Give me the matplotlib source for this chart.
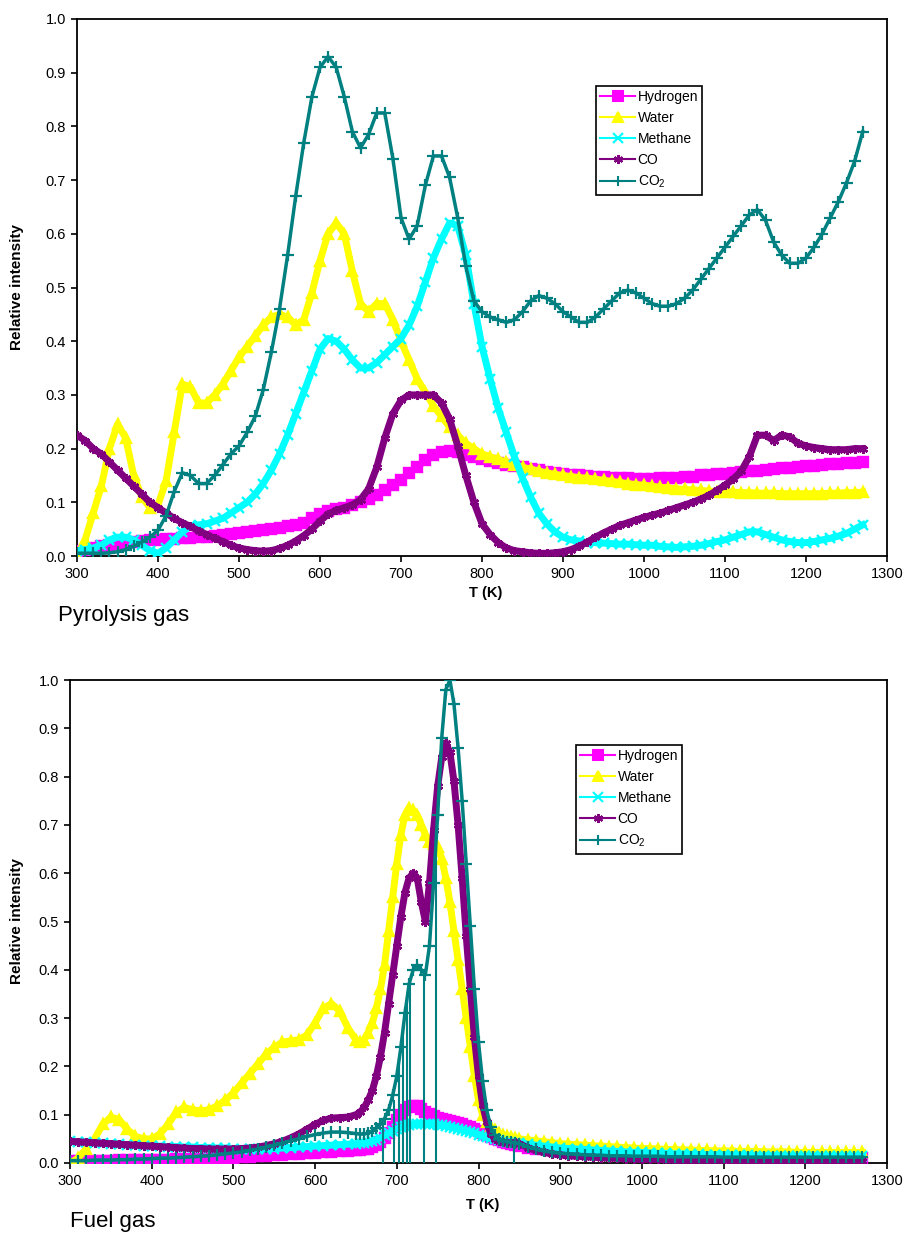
import numpy as np
import matplotlib
matplotlib.use("Agg")
import matplotlib.pyplot as plt
from matplotlib.lines import Line2D

plt.rcParams['font.family'] = ['Liberation Sans', 'DejaVu Sans']
plt.rcParams['mathtext.fontset'] = 'custom'
plt.rcParams['mathtext.rm'] = 'Liberation Sans'

# ---------------- data: Pyrolysis gas (top) ----------------
top_T = list(range(300, 1271, 10))

top_hydrogen = [
    .010, .012, .015, .018, .020, .022, .024, .026, .028, .029,
    .030, .031, .032, .033, .034, .035, .036, .038, .040, .041,
    .042, .044, .046, .048, .050, .052, .055, .058, .062, .070,
    .078, .084, .088, .090, .095, .100, .106, .114, .122, .132,
    .142, .154, .166, .178, .188, .194, .196, .193, .189, .184,
    .180, .176, .173, .170, .167, .165, .162, .160, .157, .155,
    .153, .151, .150, .149, .148, .147, .146, .145, .145, .144,
    .144, .144, .145, .145, .146, .147, .148, .150, .151, .152,
    .153, .155, .156, .158, .159, .160, .162, .163, .164, .166,
    .167, .168, .170, .171, .172, .173, .174, .175]

top_water = [
    .00, .03, .08, .13, .20, .245, .22, .15, .11, .09,
    .095, .14, .23, .32, .315, .285, .285, .30, .32, .345,
    .37, .39, .41, .43, .445, .45, .445, .43, .44, .49,
    .55, .60, .62, .60, .53, .47, .455, .47, .47, .44,
    .40, .365, .33, .305, .28, .26, .24, .225, .21, .20,
    .19, .185, .18, .175, .17, .165, .162, .158, .155, .152,
    .15, .148, .146, .145, .143, .141, .139, .137, .135, .133,
    .132, .130, .128, .127, .125, .124, .123, .122, .121, .120,
    .120, .119, .118, .118, .117, .117, .117, .116, .116, .116,
    .116, .116, .116, .117, .117, .118, .118, .119]

top_methane = [
    .01, .012, .015, .02, .03, .035, .035, .03, .02, .01,
    .005, .015, .03, .045, .055, .058, .06, .065, .07, .08,
    .09, .10, .115, .135, .16, .19, .225, .265, .305, .345,
    .385, .405, .40, .385, .365, .35, .35, .36, .375, .39,
    .405, .43, .465, .51, .555, .59, .62, .615, .56, .47,
    .39, .33, .275, .23, .185, .145, .11, .08, .06, .045,
    .035, .03, .028, .025, .025, .024, .023, .022, .022, .021,
    .02, .02, .018, .017, .016, .017, .018, .02, .023, .027,
    .03, .035, .04, .045, .045, .04, .035, .03, .027, .025,
    .025, .027, .03, .033, .037, .042, .05, .058]

top_co = [
    .225, .215, .20, .19, .175, .16, .145, .13, .115, .10,
    .09, .08, .07, .062, .055, .047, .04, .033, .027, .02,
    .015, .012, .01, .009, .01, .014, .02, .028, .038, .05,
    .065, .078, .085, .09, .095, .105, .125, .165, .22, .265,
    .29, .30, .30, .30, .30, .285, .255, .205, .15, .10,
    .06, .04, .025, .015, .01, .008, .006, .005, .005, .006,
    .008, .012, .018, .026, .035, .043, .05, .057, .062, .067,
    .072, .076, .08, .085, .09, .095, .10, .106, .113, .122,
    .132, .143, .158, .185, .225, .225, .215, .225, .222, .21,
    .205, .202, .20, .198, .198, .198, .20, .20]

top_co2 = [
    .005, .005, .005, .005, .006, .008, .012, .018, .026, .035,
    .048, .075, .12, .155, .15, .135, .135, .15, .17, .19,
    .205, .23, .26, .31, .38, .46, .56, .67, .77, .855,
    .91, .93, .91, .855, .79, .76, .785, .825, .825, .74,
    .63, .59, .615, .69, .745, .745, .705, .63, .54, .475,
    .455, .445, .44, .435, .44, .455, .475, .485, .48, .47,
    .455, .445, .435, .435, .445, .46, .475, .49, .495, .49,
    .48, .47, .465, .465, .47, .48, .495, .515, .535, .555,
    .575, .595, .615, .635, .645, .625, .585, .56, .545, .545,
    .555, .575, .60, .63, .66, .695, .735, .79]

# ---------------- data: Fuel gas (bottom) ----------------
bot_T = list(range(300, 650, 10)) + list(range(650, 850, 5)) + list(range(850, 1271, 10))

bot_hydrogen = [
    .005, .005, .005, .005, .005, .005, .006, .006, .006, .006,
    .007, .007, .007, .008, .008, .008, .009, .009, .010, .010,
    .011, .012, .013, .014, .015, .016, .017, .018, .019, .020,
    .021, .022, .023, .024, .025,
    .026, .027, .028, .030, .033, .037, .043, .052, .062, .075,
    .088, .100, .110, .116, .119, .117, .112, .106, .101, .097,
    .094, .091, .089, .087, .085, .083, .080, .077, .074, .070,
    .066, .062, .058, .054, .050, .047, .044, .041, .039, .037,
    .035, .032, .030, .028, .026, .024, .023, .022, .021, .020,
    .019, .018, .017, .016, .016, .015, .015, .014, .014, .013,
    .013, .013, .012, .012, .012, .012, .011, .011, .011, .011,
    .011, .010, .010, .010, .010, .010, .010, .010, .010, .010,
    .010, .010, .010]

bot_water = [
    .00, .01, .03, .05, .08, .095, .09, .07, .055, .05,
    .05, .06, .08, .105, .115, .11, .108, .11, .118, .13,
    .145, .165, .185, .205, .225, .24, .25, .253, .255, .265,
    .29, .32, .33, .315, .28,
    .255, .25, .255, .27, .29, .32, .36, .41, .48, .55,
    .62, .68, .72, .735, .73, .72, .70, .68, .665, .66,
    .655, .63, .59, .54, .48, .42, .36, .30, .24, .18,
    .13, .10, .085, .075, .068, .062, .058, .055, .053, .051,
    .050, .048, .046, .044, .042, .040, .039, .038, .037, .036,
    .035, .034, .033, .032, .031, .030, .030, .029, .028, .028,
    .027, .027, .026, .026, .025, .025, .025, .024, .024, .024,
    .023, .023, .023, .023, .022, .022, .022, .022, .022, .022,
    .022, .022, .022]

bot_methane = [
    .045, .044, .043, .042, .041, .040, .039, .038, .037, .036,
    .035, .035, .034, .034, .033, .033, .032, .032, .031, .031,
    .030, .030, .030, .030, .030, .030, .031, .032, .033, .034,
    .035, .036, .037, .038, .039,
    .040, .041, .042, .043, .045, .048, .052, .057, .062, .067,
    .071, .074, .077, .079, .080, .080, .080, .080, .080, .080,
    .079, .078, .077, .075, .073, .071, .069, .067, .065, .062,
    .059, .056, .053, .051, .049, .047, .045, .044, .043, .042,
    .041, .039, .037, .035, .033, .031, .030, .029, .028, .027,
    .026, .025, .024, .023, .022, .022, .021, .020, .020, .019,
    .019, .018, .018, .017, .017, .017, .016, .016, .016, .015,
    .015, .015, .015, .014, .014, .014, .014, .014, .014, .014,
    .014, .014, .014]

bot_co = [
    .045, .044, .043, .042, .041, .040, .039, .038, .037, .036,
    .035, .034, .033, .032, .031, .030, .030, .029, .029, .029,
    .029, .030, .031, .033, .036, .040, .045, .052, .060, .070,
    .080, .088, .093, .094, .095,
    .10, .105, .115, .13, .15, .18, .22, .27, .33, .39,
    .45, .51, .56, .59, .60, .59, .54, .50, .58, .69,
    .78, .84, .87, .85, .79, .70, .59, .47, .36, .26,
    .18, .12, .085, .06, .05, .045, .043, .042, .042, .043,
    .040, .032, .026, .022, .019, .017, .015, .014, .013, .012,
    .011, .010, .010, .009, .009, .008, .008, .008, .007, .007,
    .007, .006, .006, .006, .006, .006, .005, .005, .005, .005,
    .005, .005, .005, .005, .005, .005, .005, .005, .005, .005,
    .005, .005, .005]

bot_co2 = [
    .005, .005, .005, .006, .006, .006, .007, .007, .008, .008,
    .009, .010, .010, .011, .012, .013, .014, .015, .017, .019,
    .021, .023, .026, .029, .033, .037, .041, .046, .050, .055,
    .059, .062, .064, .064, .063,
    .061, .060, .060, .062, .066, .072, .080, .092, .11, .14,
    .18, .24, .31, .37, .40, .41, .40, .39, .45, .58,
    .72, .88, .98, 1.0, .95, .86, .75, .62, .49, .36,
    .25, .17, .11, .075, .058, .05, .046, .044, .043, .042,
    .040, .034, .029, .025, .022, .020, .019, .018, .017, .016,
    .016, .015, .015, .015, .014, .014, .014, .014, .013, .013,
    .013, .013, .013, .013, .013, .012, .012, .012, .012, .012,
    .012, .012, .012, .012, .012, .012, .012, .012, .012, .012,
    .012, .012, .012]

# CO2 signal drop-outs in the fuel-gas run (temperature, value before drop)
co2_drop_T = [683, 696, 703, 708, 712, 716, 733, 748, 843]
co2_drop_top = [0.08, 0.13, 0.22, 0.29, 0.34, 0.38, 0.40, 0.65, 0.045]

labels = ['Hydrogen', 'Water', 'Methane', 'CO', r'CO$_2$']
colors = ['#FF00FF', '#FFFF00', '#00FFFF', '#800080', '#008080']
markers = ['s', '^', 'x', (6, 2, 0), '+']

W, H = 906, 1234
fig = plt.figure(figsize=(W / 100, H / 100), dpi=100)


def add_axes(l, r, t, b):
    return fig.add_axes([l / W, 1 - b / H, (r - l) / W, (b - t) / H])


def style_axes(ax, xlab_y, ylab_x):
    ax.set_xlim(300, 1300)
    ax.set_ylim(0, 1.0)
    ax.set_xticks(range(300, 1301, 100))
    ax.set_yticks(np.arange(0, 1.01, 0.1))
    ax.set_yticklabels([f'{v:.1f}' for v in np.arange(0, 1.01, 0.1)])
    ax.tick_params(direction='out', length=4, width=1.2, labelsize=10.5, pad=4)
    for s in ax.spines.values():
        s.set_linewidth(1.3)
    ax.set_xlabel('T (K)', fontweight='bold', fontsize=10.5)
    ax.set_ylabel('Relative intensity', fontweight='bold', fontsize=11)
    ax.xaxis.set_label_coords(0.505, xlab_y)
    ax.yaxis.set_label_coords(ylab_x, 0.5)


def draw_series(ax, T, series):
    for i, (vals, c, m) in enumerate(zip(series, colors, markers)):
        if i == 4:
            ax.plot(T, vals, color=c, lw=2.5, marker=m, ms=9, mew=1.6, zorder=3 + i)
        else:
            ax.plot(T, vals, color=c, lw=5.0, marker=m, ms=6.5, mew=1.7,
                    mfc=c, mec=c, zorder=3 + i)


def add_legend(ax, x, y):
    handles = [Line2D([], [], color=c, lw=1.5, marker=m, ms=6.5, mew=1.5, mfc=c, mec=c)
               for c, m in zip(colors, markers)]
    leg = ax.legend(handles, labels, loc='upper left',
                    bbox_to_anchor=(x / W, 1 - y / H), bbox_transform=fig.transFigure,
                    fontsize=10, frameon=True, fancybox=False, framealpha=1,
                    edgecolor='black', handlelength=2.5, handletextpad=0.2,
                    labelspacing=0.5, borderpad=0.3, borderaxespad=0)
    leg.get_frame().set_linewidth(1.2)
    leg.set_zorder(20)


# ---- top panel ----
ax1 = add_axes(77, 887, 19, 556)
draw_series(ax1, top_T, [top_hydrogen, top_water, top_methane, top_co, top_co2])
style_axes(ax1, -0.056, -0.065)
add_legend(ax1, 596, 86)
fig.text(58 / W, 1 - 616 / H, 'Pyrolysis gas', fontsize=16, va='center', ha='left')

# ---- bottom panel ----
ax2 = add_axes(70, 887, 680, 1163)
draw_series(ax2, bot_T, [bot_hydrogen, bot_water, bot_methane, bot_co, bot_co2])
ax2.vlines(co2_drop_T, 0, co2_drop_top, color=colors[4], lw=1.5, zorder=8)
style_axes(ax2, -0.073, -0.056)
add_legend(ax2, 576, 745)
fig.text(70 / W, 1 - 1222 / H, 'Fuel gas', fontsize=16, va='center', ha='left')

fig.savefig('out.png', dpi=100)
